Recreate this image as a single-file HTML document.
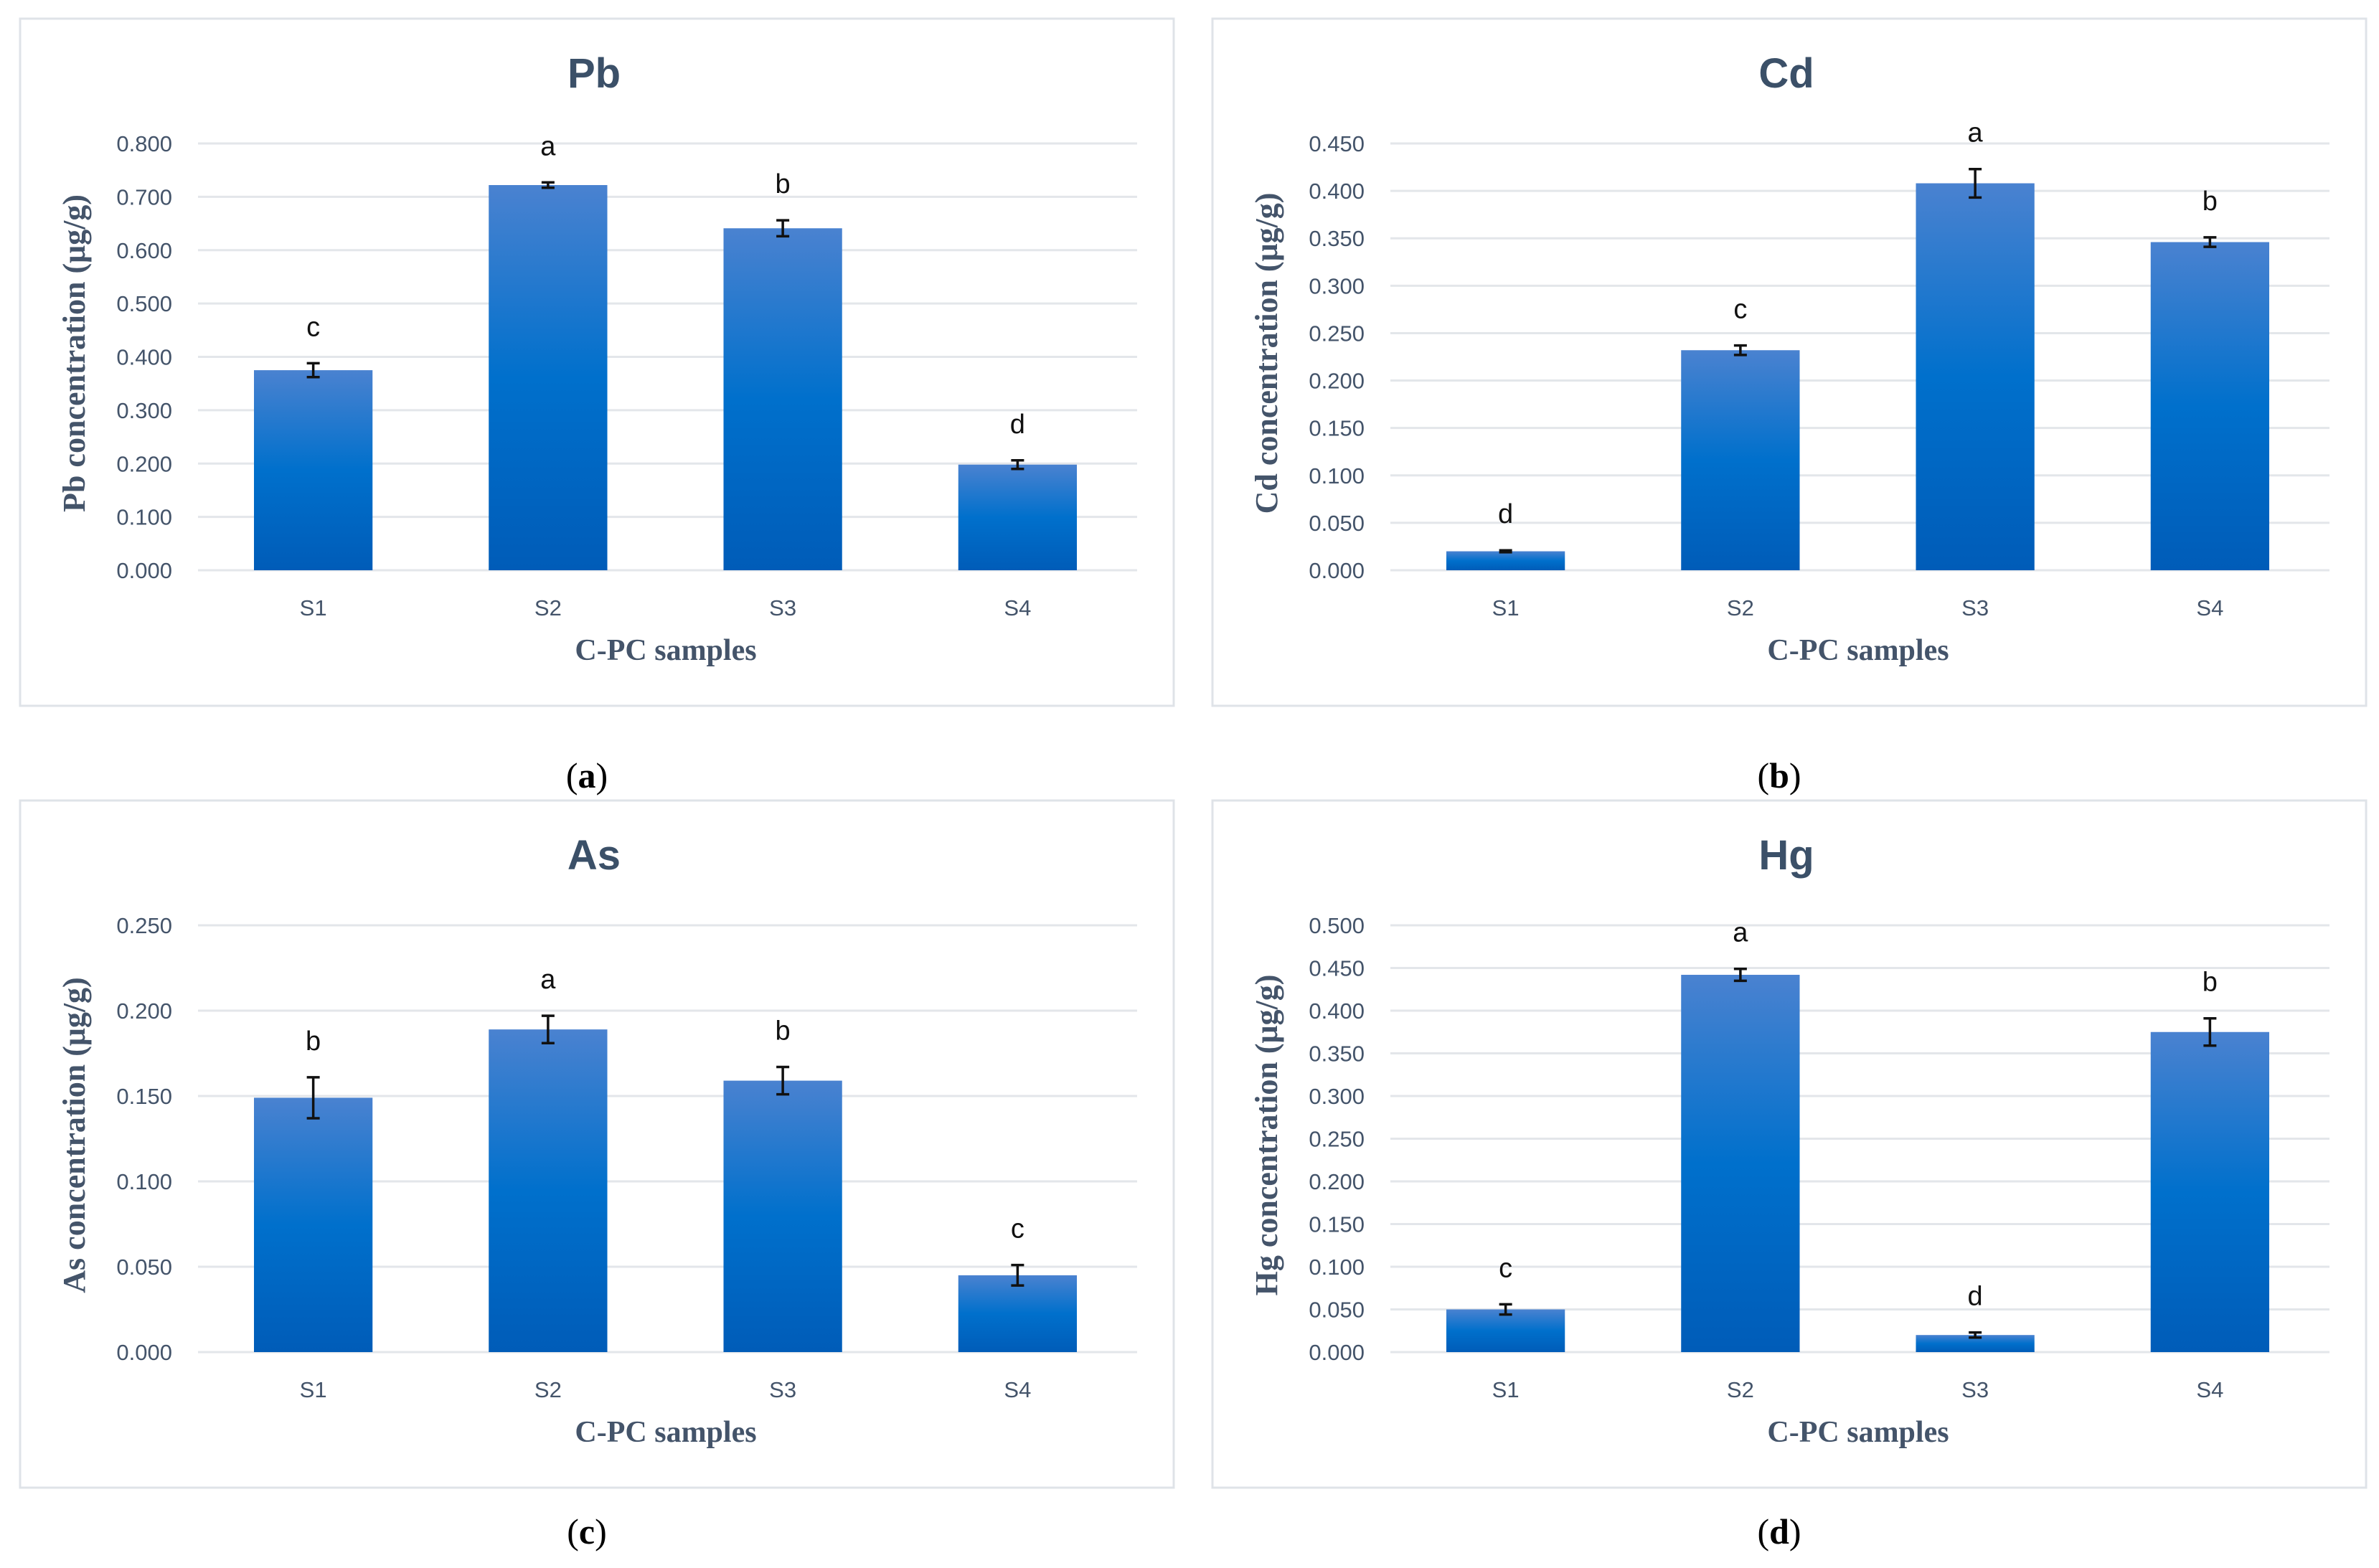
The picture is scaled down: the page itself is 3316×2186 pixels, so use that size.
<!DOCTYPE html>
<html><head><meta charset="utf-8">
<style>
html,body{margin:0;padding:0;background:#fff;}
svg{display:block;}
</style></head>
<body>
<svg id="fig" width="3316" height="2186" viewBox="0 0 3316 2186" xmlns="http://www.w3.org/2000/svg">
<defs>
<linearGradient id="barGrad" x1="0" y1="0" x2="0" y2="1">
<stop offset="0" stop-color="#4a82d0"/>
<stop offset="0.5" stop-color="#0070cc"/>
<stop offset="1" stop-color="#005cb8"/>
</linearGradient>
</defs>
</svg>
<script>
const categories = ["S1","S2","S3","S4"];
const pbValues = [0.375, 0.722, 0.641, 0.198];
const pbErrors = [0.013, 0.005, 0.015, 0.008];
const pbLetters = ["c","a","b","d"];
const pbTicks = ["0.000","0.100","0.200","0.300","0.400","0.500","0.600","0.700","0.800"];
const cdValues = [0.020, 0.232, 0.408, 0.346];
const cdErrors = [0.001, 0.005, 0.015, 0.005];
const cdLetters = ["d","c","a","b"];
const cdTicks = ["0.000","0.050","0.100","0.150","0.200","0.250","0.300","0.350","0.400","0.450"];
const asValues = [0.149, 0.189, 0.159, 0.045];
const asErrors = [0.012, 0.008, 0.008, 0.006];
const asLetters = ["b","a","b","c"];
const asTicks = ["0.000","0.050","0.100","0.150","0.200","0.250"];
const hgValues = [0.050, 0.442, 0.020, 0.375];
const hgErrors = [0.006, 0.007, 0.003, 0.016];
const hgLetters = ["c","a","d","b"];
const hgTicks = ["0.000","0.050","0.100","0.150","0.200","0.250","0.300","0.350","0.400","0.450","0.500"];

const NS = "http://www.w3.org/2000/svg";
const svg = document.getElementById("fig");
function mk(tag, attrs, parent, text){
  const e = document.createElementNS(NS, tag);
  for (const k in attrs) e.setAttribute(k, attrs[k]);
  if (text !== undefined) e.textContent = text;
  parent.appendChild(e);
  return e;
}
const TXT = "#44546a";

function panel(key, bx, by, capY, title, ylabel, caption, values, errors, letters, ticks){
  const g = mk("g", {}, svg);
  
  
  const box = mk("rect", {x:bx, y:by, width:1608, height:958, fill:"#fff", stroke:"#dfe3e8", "stroke-width":3}, g);
  
  
  const left = bx + 248, right = bx + 1557, top = by + 174, bottom = by + 769;
  const maxV = parseFloat(ticks[ticks.length-1]);
  const yS = v => bottom - (v / maxV) * (bottom - top);
  const bandW = (right - left) / categories.length;
  const xC = i => left + bandW * (i + 0.5);
  const t = mk("text", {x:bx+800, y:by+96, "text-anchor":"middle", "font-family":"Liberation Sans, sans-serif", "font-weight":"bold", "font-size":58, fill:"#3b5068"}, g, title);
  
  
  ticks.forEach(tk => {
    const y = yS(parseFloat(tk));
    const gl = mk("line", {x1:left, x2:right, y1:y, y2:y, stroke:"#e3e6ea", "stroke-width":3}, g);
    
    
    const tl = mk("text", {x:left-36, y:y+11, "text-anchor":"end", "font-family":"Liberation Sans, sans-serif", "font-size":31, fill:TXT}, g, tk);
    
    
  });
  const bw = bandW * 0.505;
  categories.forEach((c, i) => {
    const v = values[i], e = errors[i], cx = xC(i) - 3;
    const r = mk("rect", {x:cx-bw/2, y:yS(v), width:bw, height:bottom-yS(v), fill:"url(#barGrad)"}, g);
    
    
    const eg = mk("path", {d:`M${cx} ${yS(v+e)}V${yS(v-e)}M${cx-9} ${yS(v+e)}H${cx+9}M${cx-9} ${yS(v-e)}H${cx+9}`, stroke:"#111", "stroke-width":3.5, fill:"none"}, g);
    
    
    const lt = mk("text", {x:cx, y:yS(v+e)-38, "text-anchor":"middle", "font-family":"Liberation Sans, sans-serif", "font-size":38, fill:"#111"}, g, letters[i]);
    
    
    const xl = mk("text", {x:cx, y:by+832, "text-anchor":"middle", "font-family":"Liberation Sans, sans-serif", "font-size":31, fill:TXT}, g, c);
    
    
  });
  const xt = mk("text", {x:bx+900, y:by+894, "text-anchor":"middle", "font-family":"Liberation Serif, serif", "font-weight":"bold", "font-size":42, fill:TXT}, g, "C-PC samples");
  
  
  const yc = (top+bottom)/2 - 5;
  const yt = mk("text", {x:bx+90, y:yc, "text-anchor":"middle", transform:`rotate(-90 ${bx+90} ${yc})`, "font-family":"Liberation Serif, serif", "font-weight":"bold", "font-size":44, fill:TXT}, g, ylabel);
  
  
  const cp = mk("text", {x:bx+790, y:capY, "text-anchor":"middle", "font-family":"Liberation Serif, serif", "font-size":50, fill:"#000"}, g);
  
  
  mk("tspan", {}, cp, "(");
  mk("tspan", {"font-weight":"bold"}, cp, caption);
  mk("tspan", {}, cp, ")");
}
panel("pb", 28, 26, 1098, "Pb", "Pb concentration (μg/g)", "a", pbValues, pbErrors, pbLetters, pbTicks);
panel("cd", 1690, 26, 1098, "Cd", "Cd concentration (μg/g)", "b", cdValues, cdErrors, cdLetters, cdTicks);
panel("as", 28, 1116, 2152, "As", "As concentration (μg/g)", "c", asValues, asErrors, asLetters, asTicks);
panel("hg", 1690, 1116, 2152, "Hg", "Hg concentration (μg/g)", "d", hgValues, hgErrors, hgLetters, hgTicks);
</script>
</body></html>
